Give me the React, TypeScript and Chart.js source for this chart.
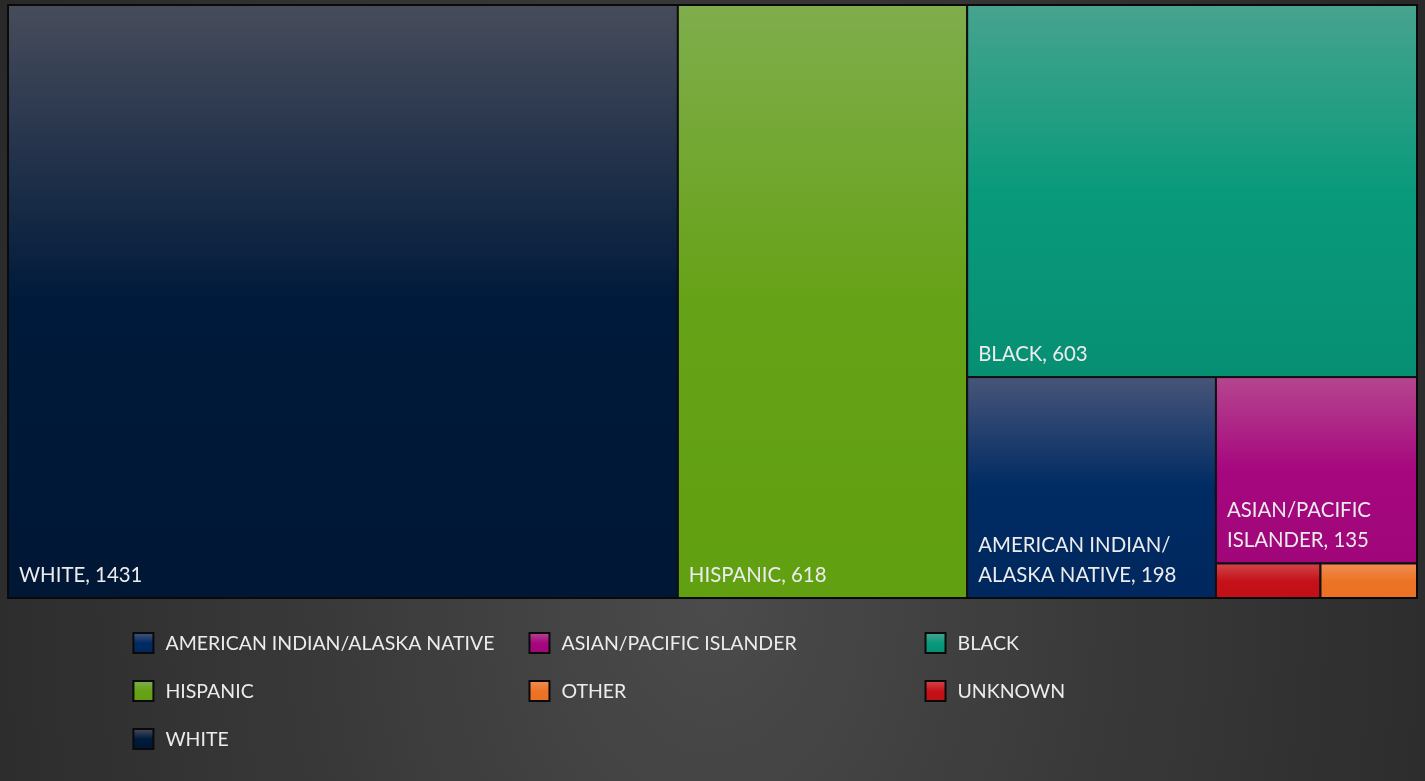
import React, { useEffect, useRef } from "react";
import { Chart, registerables } from "chart.js";

Chart.register(...registerables);

// ---- data ----
const categories = [
  "WHITE",
  "HISPANIC",
  "BLACK",
  "AMERICAN INDIAN/ALASKA NATIVE",
  "ASIAN/PACIFIC ISLANDER",
  "UNKNOWN",
  "OTHER",
];
const values = [1431, 618, 603, 198, 135, 13, 12];
const cellLabels = [
  "WHITE, 1431",
  "HISPANIC, 618",
  "BLACK, 603",
  "AMERICAN INDIAN/ALASKA NATIVE, 198",
  "ASIAN/PACIFIC ISLANDER, 135",
  "",
  "",
];
const legendOrder = [
  "AMERICAN INDIAN/ALASKA NATIVE",
  "ASIAN/PACIFIC ISLANDER",
  "BLACK",
  "HISPANIC",
  "OTHER",
  "UNKNOWN",
  "WHITE",
];

// ---- styles ----
const topColors: Record<string, string> = {
  WHITE: "#474c5b",
  HISPANIC: "#7fad4c",
  BLACK: "#47a38e",
  "AMERICAN INDIAN/ALASKA NATIVE": "#475579",
  "ASIAN/PACIFIC ISLANDER": "#b5468f",
  UNKNOWN: "#d0464b",
  OTHER: "#f08d53",
};
const baseColors: Record<string, string> = {
  WHITE: "#001a3b",
  HISPANIC: "#66a217",
  BLACK: "#099a7b",
  "AMERICAN INDIAN/ALASKA NATIVE": "#002b63",
  "ASIAN/PACIFIC ISLANDER": "#a6077e",
  UNKNOWN: "#c5121a",
  OTHER: "#ed7426",
};
const bottomColors: Record<string, string> = {
  WHITE: "#001735",
  HISPANIC: "#61a011",
  BLACK: "#078f73",
  "AMERICAN INDIAN/ALASKA NATIVE": "#00285e",
  "ASIAN/PACIFIC ISLANDER": "#a0067a",
  UNKNOWN: "#c10f16",
  OTHER: "#eb7124",
};
const FONT = "Lato, 'Open Sans', sans-serif";
const TEXT_COLOR = "#ececec";

type Cell = { x0: number; y0: number; x1: number; y1: number; i: number };

function layoutTreemap(vals: number[], aspectW: number, aspectH: number): Cell[] {
  const cells: Cell[] = [];
  let x0 = 0, y0 = 0, x1 = 1, y1 = 1;
  let remaining = vals.reduce((a, b) => a + b, 0);
  vals.forEach((v, i) => {
    const frac = remaining > 0 ? v / remaining : 0;
    const wpx = (x1 - x0) * aspectW;
    const hpx = (y1 - y0) * aspectH;
    if (i === vals.length - 1) {
      cells.push({ x0, y0, x1, y1, i });
    } else if (wpx >= hpx) {
      const xm = x0 + (x1 - x0) * frac;
      cells.push({ x0, y0, x1: xm, y1, i });
      x0 = xm;
    } else {
      const ym = y0 + (y1 - y0) * frac;
      cells.push({ x0, y0, x1, y1: ym, i });
      y0 = ym;
    }
    remaining -= v;
  });
  return cells;
}

function wrapText(ctx: CanvasRenderingContext2D, text: string, maxW: number): string[] {
  const tokens = text.match(/[^ /]+\/|[^ /]+ ?|\//g) || [text];
  const lines: string[] = [];
  let cur = "";
  for (const t of tokens) {
    const test = cur + t;
    if (cur && ctx.measureText(test.trimEnd()).width > maxW) {
      lines.push(cur.trimEnd());
      cur = t;
    } else {
      cur = test;
    }
  }
  if (cur) lines.push(cur.trimEnd());
  return lines;
}

const treemapPlugin = {
  id: "treemapCells",
  afterDatasetsDraw(chart: any) {
    const { ctx, chartArea, scales } = chart;
    const xs = scales.x, ys = scales.y;
    const cells = layoutTreemap(values, chartArea.width, chartArea.height);
    ctx.save();
    cells.forEach((c) => {
      const name = categories[c.i];
      const L = xs.getPixelForValue(c.x0);
      const R = xs.getPixelForValue(c.x1);
      const T = ys.getPixelForValue(c.y0);
      const B = ys.getPixelForValue(c.y1);
      const g = ctx.createLinearGradient(0, T, 0, B);
      g.addColorStop(0, topColors[name]);
      g.addColorStop(0.5, baseColors[name]);
      g.addColorStop(1, bottomColors[name]);
      ctx.fillStyle = g;
      ctx.fillRect(L, T, R - L, B - T);
      ctx.lineWidth = 2;
      ctx.strokeStyle = "#111111";
      ctx.strokeRect(L, T, R - L, B - T);

      const label = cellLabels[c.i];
      if (label) {
        ctx.font = `20.4px ${FONT}`;
        ctx.fillStyle = TEXT_COLOR;
        ctx.textAlign = "left";
        ctx.textBaseline = "alphabetic";
        const lines = wrapText(ctx, label, R - L - 22);
        const lh = 30;
        const lastBase = B - 16;
        lines.forEach((ln, k) => {
          ctx.fillText(ln, L + 11, lastBase - (lines.length - 1 - k) * lh);
        });
      }
    });
    ctx.lineWidth = 2;
    ctx.strokeStyle = "#0a0a0a";
    ctx.strokeRect(chartArea.left, chartArea.top, chartArea.width, chartArea.height);

    // legend
    ctx.font = `19.5px ${FONT}`;
    const widths = legendOrder.map((n) => ctx.measureText(n).width);
    const cols = 3;
    const gap = 35;
    const colW = Math.max(...widths) + 32 + gap;
    const startX = (chart.width - cols * colW) / 2 + 15;
    const firstRowY = chartArea.bottom + 45;
    const rowH = 48;
    legendOrder.forEach((n, k) => {
      const col = k % cols;
      const row = Math.floor(k / cols);
      const x = startX + col * colW;
      const y = firstRowY + row * rowH;
      const g = ctx.createLinearGradient(0, y - 10, 0, y + 10);
      g.addColorStop(0, topColors[n]);
      g.addColorStop(0.5, baseColors[n]);
      g.addColorStop(1, bottomColors[n]);
      ctx.fillStyle = g;
      ctx.fillRect(x, y - 10, 20, 20);
      ctx.lineWidth = 2;
      ctx.strokeStyle = "#0a0a0a";
      ctx.strokeRect(x, y - 10, 20, 20);
      ctx.fillStyle = TEXT_COLOR;
      ctx.textBaseline = "middle";
      ctx.textAlign = "left";
      ctx.fillText(n, x + 32, y + 1);
    });
    ctx.restore();
  },
};

export default function App() {
  const ref = useRef<HTMLCanvasElement | null>(null);
  useEffect(() => {
    if (!ref.current) return;
    const chart = new Chart(ref.current, {
      type: "scatter",
      data: { datasets: [{ data: [], label: "cells" }] },
      options: {
        animation: false,
        responsive: true,
        maintainAspectRatio: false,
        layout: { padding: { left: 8, top: 5, right: 8, bottom: 183 } },
        plugins: { legend: { display: false }, tooltip: { enabled: false } },
        scales: {
          x: { type: "linear", min: 0, max: 1, display: false },
          y: { type: "linear", min: 0, max: 1, reverse: true, display: false },
        },
      },
      plugins: [treemapPlugin],
    });
    return () => chart.destroy();
  }, []);
  return (
    <div
      style={{
        position: "absolute",
        left: 0,
        top: 0,
        width: 1425,
        height: 781,
        background:
          "radial-gradient(ellipse 820px 1100px at 50% 77%, #4b4b4b 0%, #3a3a3a 45%, #292929 100%)",
      }}
    >
      <canvas ref={ref} />
    </div>
  );
}
